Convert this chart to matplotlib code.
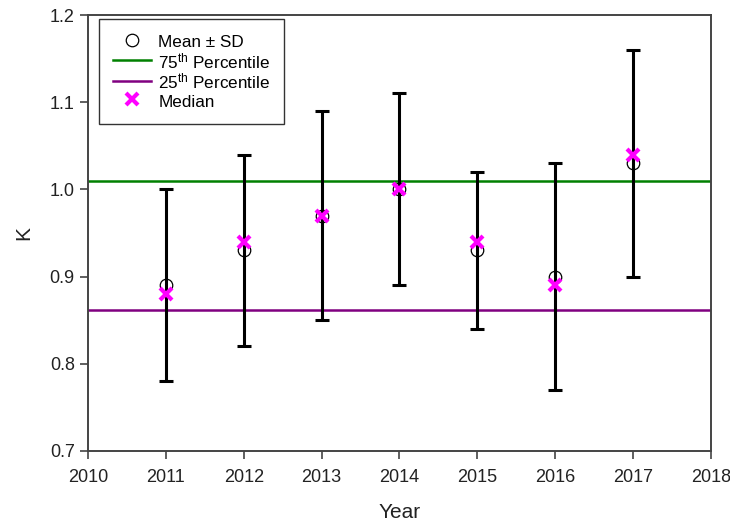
import matplotlib.pyplot as plt

plt.rcParams['font.family'] = ['Liberation Sans', 'DejaVu Sans']
plt.rcParams['mathtext.fontset'] = 'custom'
plt.rcParams['mathtext.rm'] = 'Liberation Sans'
plt.rcParams['mathtext.default'] = 'regular'

years = [2011, 2012, 2013, 2014, 2015, 2016, 2017]
k_mean = [0.89, 0.93, 0.97, 1.00, 0.93, 0.90, 1.03]
k_sd = [0.11, 0.11, 0.12, 0.11, 0.09, 0.13, 0.13]
k_median = [0.88, 0.94, 0.97, 1.00, 0.94, 0.89, 1.04]
p75 = 1.01
p25 = 0.862

fig = plt.figure(figsize=(7.3, 5.23), dpi=100)
ax = fig.add_axes([0.1205, 0.1377, 0.8535, 0.8336])

l75 = ax.axhline(p75, color='#008000', lw=1.8, zorder=1, label=r'75$^{th}$ Percentile')
l25 = ax.axhline(p25, color='#800080', lw=1.8, zorder=1, label=r'25$^{th}$ Percentile')

ax.errorbar(years, k_mean, yerr=k_sd, fmt='none', ecolor='black',
            elinewidth=2.2, capsize=5, capthick=2.2, zorder=3)
mean_pts, = ax.plot(years, k_mean, 'o', ms=9, mfc='none', mec='black',
                    mew=0.9, zorder=2, label='Mean ± SD')
med_pts, = ax.plot(years, k_median, 'x', ms=8, color='#ff00ff', mew=3,
                   zorder=4, label='Median')

ax.set_xlim(2010, 2018)
ax.set_ylim(0.7, 1.2)
ax.set_xticks(range(2010, 2019))
ax.set_yticks([0.7, 0.8, 0.9, 1.0, 1.1, 1.2])
ax.set_yticklabels(['0.7', '0.8', '0.9', '1.0', '1.1', '1.2'])
ax.tick_params(direction='out', length=6, width=1.2, color='#444444',
               labelsize=13, labelcolor='#222222')
ax.tick_params(axis='x', pad=7)
for s in ax.spines.values():
    s.set_color('#444444')
    s.set_linewidth(1.4)

ax.set_xlabel('Year', fontsize=15, color='#222222', labelpad=12)
ax.set_ylabel('K', fontsize=15, color='#222222', labelpad=12)

leg = ax.legend(handles=[mean_pts, l75, l25, med_pts], loc='upper left',
                bbox_to_anchor=(0.0185, 0.9915), borderaxespad=0,
                fontsize=12.3, frameon=True, fancybox=False, edgecolor='black',
                handlelength=2.2, handleheight=1.3, labelspacing=0,
                borderpad=0.8, handletextpad=0.45)
leg.get_frame().set_linewidth(1.0)

fig.savefig('out.png', dpi=100, facecolor='white')
